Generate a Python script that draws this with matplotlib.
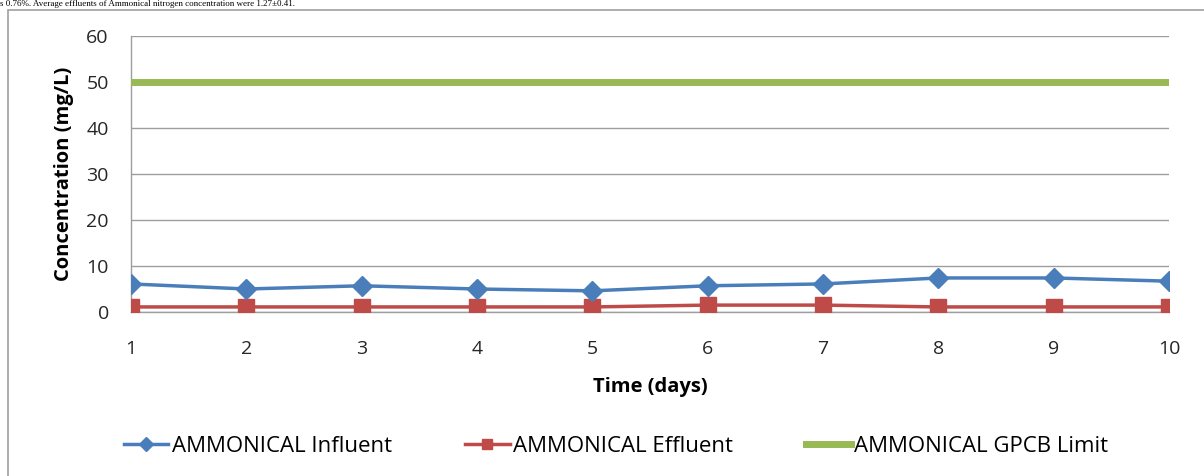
import matplotlib
matplotlib.use("Agg")
import matplotlib.pyplot as plt
from matplotlib.patches import Rectangle

days = [1, 2, 3, 4, 5, 6, 7, 8, 9, 10]
influent = [6.1, 5.0, 5.7, 5.0, 4.6, 5.7, 6.1, 7.4, 7.4, 6.7]
effluent = [1.1, 1.1, 1.1, 1.1, 1.1, 1.5, 1.5, 1.1, 1.1, 1.1]
limit = [50, 50, 50, 50, 50, 50, 50, 50, 50, 50]
yticks = [0, 10, 20, 30, 40, 50, 60]

plt.rcParams['font.family'] = ['Open Sans', 'DejaVu Sans']

fig = plt.figure(figsize=(12.04, 4.76), dpi=100)
ax = fig.add_axes([131/1204, 1-312/476, (1169-131)/1204, (312-36)/476])

# outer chart border
fig.patches.append(Rectangle((8/1204, -0.1), 1.2, (476-10)/476 + 0.1,
                             transform=fig.transFigure, fill=False,
                             edgecolor='#A0A0A0', linewidth=1.2))
# caption text at top
fig.text(0.0, 0.999, "s 0.76%. Average effluents of Ammonical nitrogen concentration were 1.27±0.41.",
         fontsize=6.5, family='Liberation Serif', va='top', ha='left')

ax.plot(days, influent, color='#4A7EBB', linewidth=2.5, marker='D', markersize=10,
        label='AMMONICAL Influent', zorder=4)
ax.plot(days, effluent, color='#BE4B48', linewidth=2.5, marker='s', markersize=11,
        label='AMMONICAL Effluent', zorder=3)
ax.plot(days, limit, color='#98B954', linewidth=5, label='AMMONICAL GPCB Limit', zorder=3)

ax.set_xlim(1, 10)
ax.set_ylim(0, 60)
ax.set_yticks(yticks)
ax.set_xticks(days)
ax.yaxis.grid(True, color='#9E9E9E', linewidth=1)
ax.set_axisbelow(True)
for s in ['top', 'right']:
    ax.spines[s].set_visible(False)
for s in ['left', 'bottom']:
    ax.spines[s].set_color('#9E9E9E')
    ax.spines[s].set_linewidth(1)
ax.tick_params(axis='both', length=0, labelsize=14, colors='#262626')
ax.tick_params(axis='y', pad=16)
ax.tick_params(axis='x', pad=20)
for lbl in ax.get_xticklabels() + ax.get_yticklabels():
    lbl.set_clip_on(False)

ax.set_xlabel('Time (days)', fontsize=14.5, fontweight='bold', labelpad=14)
ax.set_ylabel('Concentration (mg/L)', fontsize=14.5, fontweight='bold', labelpad=9)

fig.legend(loc='center', bbox_to_anchor=(616/1204, 1-446/476), ncol=3, frameon=False,
           fontsize=16, handlelength=2.0, handletextpad=0.15, columnspacing=3.3,
           markerscale=0.7)

fig.savefig('out.png', dpi=100)
